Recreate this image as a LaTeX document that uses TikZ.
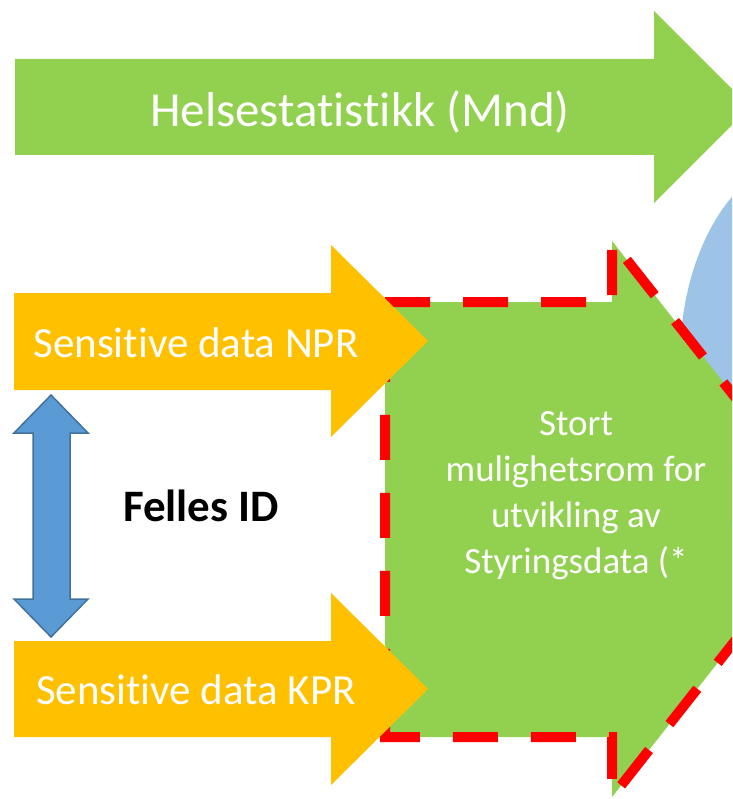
\documentclass[tikz,border=0pt]{standalone}
\usepackage{fontspec}
\setmainfont[Ligatures=CommonOff]{Carlito}
\usetikzlibrary{positioning}

\definecolor{helseGreen}{HTML}{92D050}
\definecolor{dataOrange}{HTML}{FFC000}
\definecolor{cloudBlue}{HTML}{9DC3E6}
\definecolor{idBlue}{HTML}{5B9BD5}
\definecolor{idEdge}{HTML}{41719C}

\begin{document}
\begin{tikzpicture}[x=1pt,y=-1pt]
		\tikzstyle{Label}	= [text=white, inner sep=0pt, anchor=base]
		\tikzstyle{Green}	= [fill=helseGreen]
		\tikzstyle{Orange}	= [fill=dataOrange]
		\tikzstyle{Border}	= [draw=red, line width=10pt, dash pattern=on 45pt off 33pt]
		\tikzstyle{IDarrow}	= [fill=idBlue, draw=idEdge, line width=1.5pt, line join=miter]

		\useasboundingbox (0,0) rectangle (732,799);
		\clip (0,0) rectangle (732,799);

		% blue shape behind, on the right
		\fill[cloudBlue] (810,360) ellipse [x radius=130, y radius=204];

		% top arrow
		\fill[Green] (15,59) -- (654,59) -- (654,11) -- (750,107) -- (654,203) -- (654,155) -- (15,155) -- cycle;

		% big arrow with dashed border
		\fill[Green] (385,302) -- (612,302) -- (612,241) -- (831,519) -- (612,797) -- (612,737) -- (385,737) -- cycle;
		\draw[Border] (385,302) -- (612,302) -- (612,241) -- (831,519) -- (612,797) -- (612,737) -- (385,737) -- cycle;

		% sensitive data arrows
		\fill[Orange] (14,293) -- (331,293) -- (331,245) -- (428,341) -- (331,437) -- (331,390) -- (14,390) -- cycle;
		\fill[Orange] (14,641) -- (331,641) -- (331,593) -- (428,689) -- (331,785) -- (331,737) -- (14,737) -- cycle;

		% double arrow
		\draw[IDarrow] (51,395) -- (88,433) -- (70,433) -- (70,599) -- (88,599) -- (51,637) -- (14,599) -- (33,599) -- (33,433) -- (14,433) -- cycle;

		\node (helse) at (360,127) [Label][font=\fontsize{49}{59}\selectfont]{Helsestatistikk (Mnd)};
		\node (npr) at (196,357) [Label][font=\fontsize{43}{52}\selectfont]{Sensitive data NPR};
		\node (kpr) at (196,704) [Label][font=\fontsize{43}{52}\selectfont]{Sensitive data KPR};
		\node (id) at (201,521) [anchor=base, inner sep=0pt, font=\fontsize{45}{54}\selectfont\bfseries]{Felles ID};
		\node (rom) at (576,496) [text=white, inner sep=0pt, align=center, font=\fontsize{37}{46}\selectfont]{Stort\\mulighetsrom for\\utvikling av\\Styringsdata (*};
	\end{tikzpicture}
\end{document}
